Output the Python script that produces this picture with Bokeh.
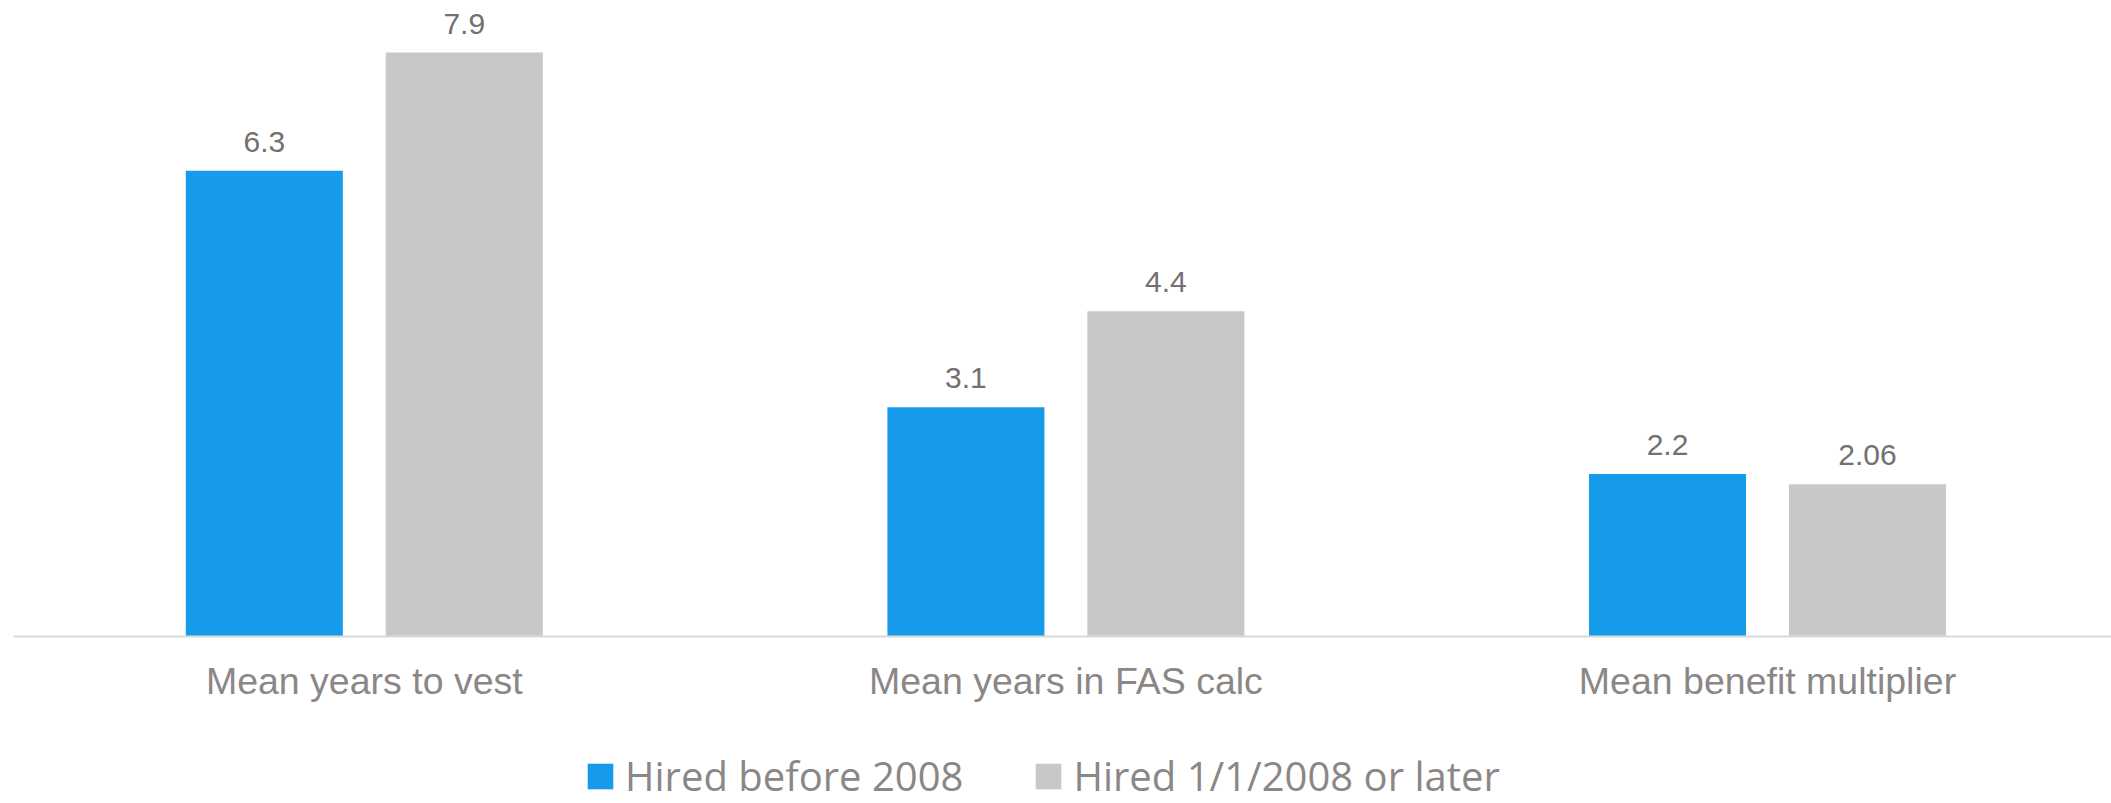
from bokeh.plotting import figure
from bokeh.models import ColumnDataSource, Range1d, Legend, LegendItem, LabelSet, Span
from bokeh.core.properties import value
from bokeh.transform import dodge
from bokeh.embed import file_html
from bokeh.resources import INLINE

categories = ["Mean years to vest", "Mean years in FAS calc", "Mean benefit multiplier"]
series_names = ["Hired before 2008", "Hired 1/1/2008 or later"]
hired_before_2008 = [6.3, 3.1, 2.2]
hired_2008_or_later = [7.9, 4.4, 2.06]
labels_before = ["6.3", "3.1", "2.2"]
labels_later = ["7.9", "4.4", "2.06"]

BLUE = "#169BEB"
GRAY = "#C8C8C8"
VAL_COLOR = "#757070"
CAT_COLOR = "#8C8787"

xs = [i + 0.5 for i in range(len(categories))]
src = ColumnDataSource(dict(x=xs, cat=categories, before=hired_before_2008,
                            later=hired_2008_or_later, lb=labels_before, ll=labels_later))

W, H = 2111, 803
PX_PER_UNIT = 73.92
BASE_Y = 636
p = figure(width=W, height=H, output_backend="svg", toolbar_location=None,
           x_range=Range1d(0, 2098 / 701.6),
           y_range=Range1d(-(H - BASE_Y) / PX_PER_UNIT, BASE_Y / PX_PER_UNIT),
           min_border_left=13, min_border_right=0, min_border_top=0, min_border_bottom=0)
p.outline_line_color = None
p.grid.visible = False
p.xaxis.visible = False
p.yaxis.visible = False
p.background_fill_color = "white"
p.border_fill_color = "white"

off = 0.1425
bw = 0.2238
r1 = p.vbar(x=dodge("x", -off, range=p.x_range), top="before", width=bw, bottom=0,
            fill_color=BLUE, line_color=None, source=src)
r2 = p.vbar(x=dodge("x", off, range=p.x_range), top="later", width=bw, bottom=0,
            fill_color=GRAY, line_color=None, source=src)

p.add_layout(Span(location=0, dimension="width", line_color="#D9D9D9", line_width=2))

for xo, col, tcol in [(-off, "before", "lb"), (off, "later", "ll")]:
    ls = LabelSet(x=dodge("x", xo, range=p.x_range), y=col, text=tcol, source=src,
                  text_align="center", text_baseline="alphabetic", y_offset=19,
                  text_font=value("Liberation Sans"), text_font_size=value("30px"),
                  text_color=VAL_COLOR)
    p.add_layout(ls)

cat_labels = LabelSet(x="x", y=0, text="cat", source=src, text_align="center",
                      text_baseline="alphabetic", y_offset=-57,
                      text_font=value("Liberation Sans"), text_font_size=value("37.5px"),
                      text_color=CAT_COLOR)
p.add_layout(cat_labels)

legend = Legend(items=[LegendItem(label=series_names[0], renderers=[r1]),
                       LegendItem(label=series_names[1], renderers=[r2])],
                orientation="horizontal", location=(571, 0),
                border_line_color=None, background_fill_alpha=0,
                label_text_font="Open Sans", label_text_font_size="40px",
                label_text_color=CAT_COLOR, glyph_width=32, glyph_height=32,
                label_standoff=9, spacing=69, padding=0, margin=0)
p.add_layout(legend, "center")

open("out.html", "w").write(file_html(p, INLINE))
